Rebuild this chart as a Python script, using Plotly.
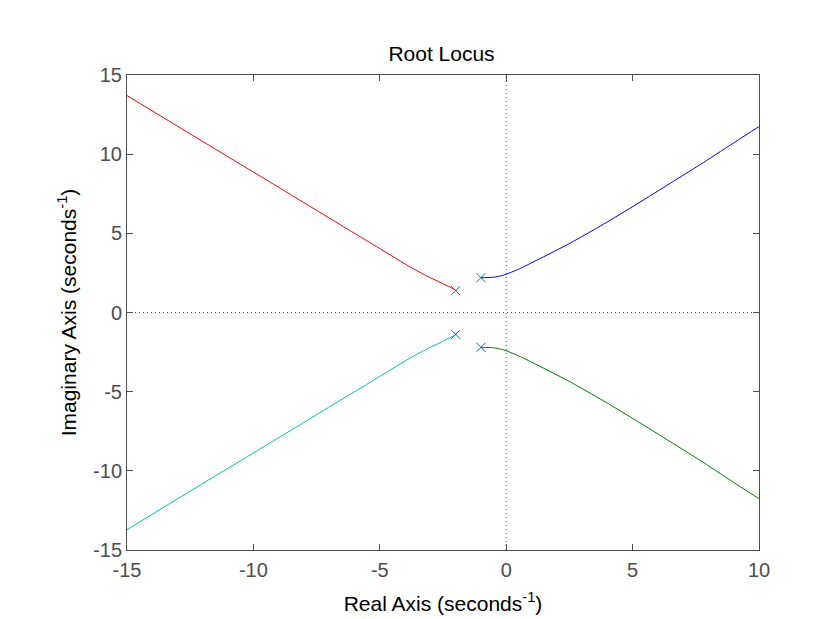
import plotly.graph_objects as go

# Open-loop poles
pole_re = [-2.0, -2.0, -1.0, -1.0]
pole_im = [1.38, -1.38, 2.2, -2.2]

# Locus branches
red_x = [-1.97, -2.2, -2.61, -3.2, -3.93, -5.25, -6.57, -7.88, -9.2, -10.52, -12.5, -15.0]
red_y = [1.38, 1.58, 1.9, 2.35, 3.0, 4.28, 5.55, 6.82, 8.1, 9.37, 11.28, 13.7]

cyan_x = [-1.97, -2.2, -2.61, -3.2, -3.93, -5.25, -6.57, -7.88, -9.2, -10.52, -12.5, -15.0]
cyan_y = [-1.38, -1.58, -1.9, -2.35, -3.0, -4.28, -5.55, -6.82, -8.1, -9.37, -11.28, -13.72]

blue_x = [-1.0, -0.5, -0.1, 0.55, 1.21, 2.53, 3.85, 5.17, 6.49, 7.8, 9.13, 10.0]
blue_y = [2.2, 2.23, 2.36, 2.78, 3.3, 4.38, 5.58, 6.85, 8.16, 9.47, 10.85, 11.74]

green_x = [-1.0, -0.5, -0.1, 0.55, 1.21, 2.53, 3.85, 5.17, 6.49, 7.8, 9.13, 10.0]
green_y = [-2.2, -2.23, -2.36, -2.78, -3.3, -4.38, -5.58, -6.85, -8.16, -9.47, -10.87, -11.76]

x_ticks = [-15, -10, -5, 0, 5, 10]
y_ticks = [-15, -10, -5, 0, 5, 10, 15]

FONT = "Liberation Sans, Arial, sans-serif"

fig = go.Figure()
for xs, ys, col in [(blue_x, blue_y, "#0000FF"), (green_x, green_y, "#008000"),
                    (red_x, red_y, "#FF0000"), (cyan_x, cyan_y, "#00BFBF")]:
    fig.add_trace(go.Scatter(x=xs, y=ys, mode="lines",
                             line=dict(color=col, width=1, shape="spline", smoothing=0.6),
                             hoverinfo="skip", showlegend=False))

fig.add_trace(go.Scatter(x=pole_re, y=pole_im, mode="markers",
                         marker=dict(symbol="x-thin", size=9, line=dict(color="#0072BD", width=1)),
                         showlegend=False))

# dotted zero lines
fig.add_shape(type="line", xref="x", yref="paper", x0=0, x1=0, y0=0, y1=1,
              line=dict(color="#404040", width=1, dash="1px,3px"), layer="below")
fig.add_shape(type="line", xref="paper", yref="y", x0=0, x1=1, y0=0, y1=0,
              line=dict(color="#404040", width=1, dash="1px,3px"), layer="below")

axis_common = dict(showgrid=False, zeroline=False, showline=True, linecolor="#4d4d4d", linewidth=1,
                   mirror="ticks", ticks="inside", ticklen=6, tickcolor="#4d4d4d", automargin=False,
                   tickfont=dict(family=FONT, size=20, color="#4d4d4d"))

fig.update_layout(
    width=840, height=619,
    paper_bgcolor="white", plot_bgcolor="white",
    margin=dict(l=127, r=81, t=75, b=69),
    title=dict(text="Root Locus", x=0.5256, xanchor="center", y=0.914, yanchor="middle",
               font=dict(family=FONT, size=21, color="#000000")),
    xaxis=dict(range=[-15, 10], tickvals=x_ticks, ticktext=[str(v) for v in x_ticks],
               ticklabelstandoff=2,
               title=dict(text="Real Axis (seconds<sup>-1</sup>)", standoff=16,
                          font=dict(family=FONT, size=21, color="#000000")),
               **axis_common),
    yaxis=dict(range=[-15, 15], tickvals=y_ticks, ticktext=[str(v) for v in y_ticks],
               title=dict(text="Imaginary Axis (seconds<sup>-1</sup>)", standoff=10,
                          font=dict(family=FONT, size=21, color="#000000")),
               **axis_common),
)

fig.write_html("out.html")
